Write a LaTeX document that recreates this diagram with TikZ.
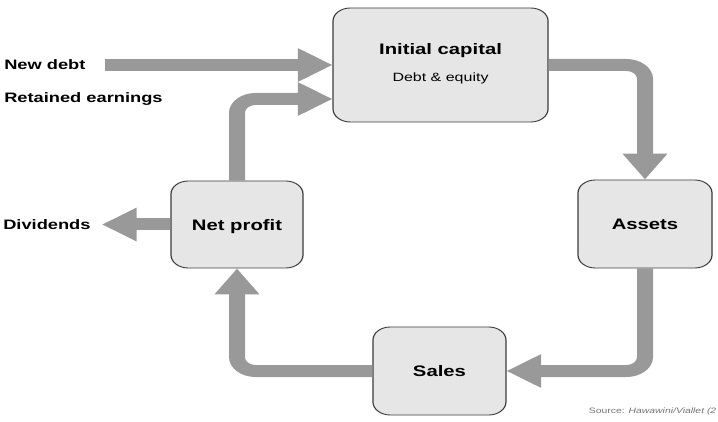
\documentclass[tikz,border=0pt]{standalone}
\usepackage{fontspec}
\setmainfont{Liberation Sans}
\usetikzlibrary{arrows.meta}
\definecolor{arrgray}{RGB}{153,153,153}
\definecolor{boxfill}{RGB}{230,230,230}
\definecolor{boxline}{RGB}{60,60,60}
\definecolor{srcgray}{RGB}{115,115,115}
\begin{document}
\begin{tikzpicture}[x=1pt,y=-1pt,
  box/.style={draw=boxline, fill=boxfill, line width=0.9pt, rounded corners=13pt,
    inner sep=0pt, text depth=0pt, font=\fontsize{15.2}{18}\selectfont\bfseries},
  flow/.style={draw=arrgray, line width=12pt, rounded corners=14pt,
    -{Triangle[length=26pt,width=32pt]}},
  boxtitle/.style={font=\fontsize{15.2}{18}\selectfont\bfseries, inner sep=0pt, anchor=base},
  boxsub/.style={font=\fontsize{12}{14}\selectfont, inner sep=0pt, anchor=base},
  side/.style={font=\fontsize{13.7}{16}\selectfont\bfseries, inner sep=0pt, anchor=base west},
  src/.style={font=\fontsize{7.8}{9}\selectfont, text=srcgray, inner sep=0pt, anchor=base west}
]
\useasboundingbox (0,0) rectangle (718,422);
\begin{scope}[transform canvas={xscale=1.333333}]
  % boxes
  \node[box, minimum width=161.25pt, minimum height=114pt] (ic) at (330.4,65) {};
  \node[boxtitle] (ict) at (330.4,54.5) {Initial capital};
  \node[boxsub] (ics) at (330.4,81.5) {Debt \& equity};
  \node[box, minimum width=100.5pt, minimum height=88pt] (as) at (483.75,224) {Assets};
  \node[box, minimum width=99pt, minimum height=87pt] (np) at (177.75,224.5) {Net profit};
  \node[box, minimum width=99.75pt, minimum height=88pt] (sa) at (329.6,371) {Sales};
  % side labels
  \node[side] (tnd) at (3,70) {New debt};
  \node[side] (tre) at (3,103) {Retained earnings};
  \node[side] (tdv) at (2.25,229.5) {Dividends};
  \node[src] (srct) at (441.5,413) {Source: \textit{Hawawini/Viallet (2}};
  % free ends
  \coordinate (nd) at (78.75,65);
  \coordinate (dv) at (76.5,224.5);
  % connectors
  \draw[flow] (nd) -- (ic.west);
  \draw[flow] (np.north) |- ([yshift=-34pt]ic.west);
  \draw[flow] (ic.east) -| (as.north);
  \draw[flow] (as.south) |- (sa.east);
  \draw[flow] (sa.west) -| (np.south);
  \draw[flow] (np.west) -- (dv);
\end{scope}
\end{tikzpicture}
\end{document}
